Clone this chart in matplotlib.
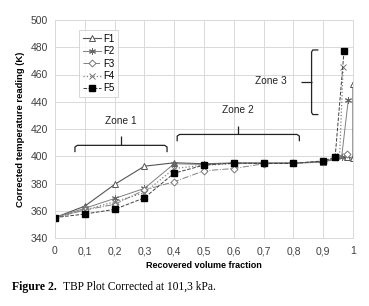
import matplotlib
matplotlib.use("Agg")
import matplotlib.pyplot as plt
from matplotlib.ticker import FuncFormatter

# Recovered volume fraction / corrected temperature (K) per sample
f1_x = [0, 0.1, 0.2, 0.3, 0.4, 0.5, 0.6, 0.7, 0.8, 0.9, 0.98, 1.0, 1.0]
f1_y = [355, 363.4, 379.3, 392.7, 395.2, 394.5, 395, 395, 395, 396, 399.5, 398.4, 453.3]
f2_x = [0, 0.1, 0.2, 0.3, 0.4, 0.5, 0.6, 0.7, 0.8, 0.9, 0.962, 0.984]
f2_y = [355, 361.8, 369, 376.4, 394.5, 394, 395, 395, 395, 396, 399.6, 441]
f3_x = [0, 0.1, 0.2, 0.3, 0.4, 0.5, 0.6, 0.7, 0.8, 0.9, 0.981]
f3_y = [355, 360.5, 364.7, 375.2, 381.3, 389.3, 391, 394.5, 395, 395.5, 401.5]
f4_x = [0, 0.1, 0.2, 0.3, 0.4, 0.5, 0.6, 0.7, 0.8, 0.9, 0.955, 0.967]
f4_y = [355, 360.5, 366.6, 373.2, 391, 393.5, 394.5, 395, 395, 396, 400, 465.5]
f5_x = [0, 0.1, 0.2, 0.3, 0.4, 0.5, 0.6, 0.7, 0.8, 0.9, 0.94, 0.97]
f5_y = [355, 357.6, 361, 369.5, 387.6, 393.5, 395, 394.7, 394.7, 396.6, 399.3, 477.2]

x_ticks = [0, 0.1, 0.2, 0.3, 0.4, 0.5, 0.6, 0.7, 0.8, 0.9, 1.0]
y_ticks = [340, 360, 380, 400, 420, 440, 460, 480, 500]

plt.rcParams['font.family'] = ['Liberation Sans', 'DejaVu Sans']

fig = plt.figure(figsize=(3.69, 3.06), dpi=100)
ax = fig.add_axes([55 / 369, 68 / 306, 298 / 369, 218 / 306])

ax.plot(f1_x, f1_y, '-', color='#555555', lw=0.8, marker='^', ms=4.5,
        mfc='white', mec='#555555', mew=0.7, label='F1')
ax.plot(f2_x, f2_y, '-', color='#808080', lw=0.7, marker=(6, 2, 0), ms=5,
        mec='#666666', mew=0.7, label='F2')
ax.plot(f3_x, f3_y, '-.', color='#808080', lw=0.7, marker='D', ms=3.5,
        mfc='white', mec='#777777', mew=0.7, label='F3')
ax.plot(f4_x, f4_y, ':', color='#808080', lw=0.9, marker='x', ms=4,
        mec='#777777', mew=0.7, label='F4')
ax.plot(f5_x, f5_y, '--', color='#404040', lw=0.7, marker='s', ms=5,
        mfc='black', mec='black', label='F5')

ax.set_xlim(0, 1)
ax.set_ylim(340, 500)
ax.set_xticks(x_ticks)
ax.set_yticks(y_ticks)
ax.xaxis.set_major_formatter(FuncFormatter(lambda v, p: ('%g' % round(v, 1)).replace('.', ',')))
ax.grid(True, color='#d9d9d9', lw=0.7)
ax.set_axisbelow(True)
for s in ax.spines.values():
    s.set_color('#d9d9d9')
    s.set_linewidth(0.7)
ax.tick_params(length=0, labelsize=7.5, colors='#404040')
ax.tick_params(axis='x', pad=6)
ax.tick_params(axis='y', pad=5)

ax.set_xlabel('Recovered volume fraction', fontsize=6.5, fontweight='bold', labelpad=3)
ax.set_ylabel('Corrected temperature reading (K)', fontsize=6.8, fontweight='bold', labelpad=4)

leg = ax.legend(loc='upper left', bbox_to_anchor=(0.065, 0.975), fontsize=7,
                frameon=True, fancybox=False, handlelength=1.9, handletextpad=0.2,
                labelspacing=0.25, borderpad=0.35)
leg.get_frame().set_edgecolor('#cccccc')
leg.get_frame().set_linewidth(0.7)

bk = dict(color='#222222', lw=0.9, solid_capstyle='butt')

# Zone 1 and Zone 2 horizontal braces
for x0, x1, xm, yb, yt, ypk in [(0.067, 0.376, 0.22, 408, 403, 414.5),
                                 (0.41, 0.82, 0.615, 416, 411, 422.5)]:
    ax.plot([x0, x0, x0 + 0.008, x1 - 0.008, x1, x1],
            [yt, yb - 1.2, yb, yb, yb - 1.2, yt], **bk)
    ax.plot([xm, xm], [yb, ypk], **bk)
ax.text(0.22, 426, 'Zone 1', fontsize=7.3, ha='center', va='center', color='#222222')
ax.text(0.613, 434, 'Zone 2', fontsize=7.3, ha='center', va='center', color='#222222')

# Zone 3 vertical brace
xb, xs, yb0, yb1 = 0.861, 0.884, 430.6, 478
ax.plot([xs, xb + 0.004, xb, xb, xb + 0.004, xs],
        [yb1, yb1, yb1 - 1.5, yb0 + 1.5, yb0, yb0], **bk)
ax.plot([0.825, xb], [454.8, 454.8], **bk)
ax.text(0.777, 455, 'Zone 3', fontsize=7.3, ha='right', va='center', color='#222222')

fig.text(12 / 369, 1 - 287 / 306, 'Figure 2.', fontsize=8.5, fontweight='bold',
         family='Liberation Serif', va='center', ha='left')
fig.text(63 / 369, 1 - 287 / 306, 'TBP Plot Corrected at 101,3 kPa.', fontsize=8.3,
         family='Liberation Serif', va='center', ha='left')

fig.savefig('out.png', dpi=100)
